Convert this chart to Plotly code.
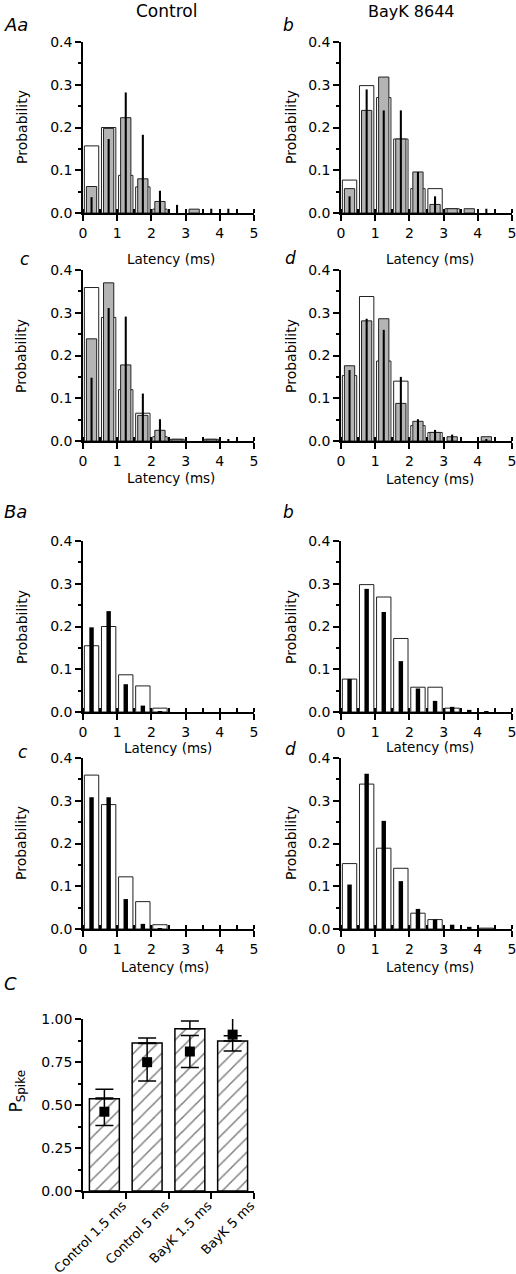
import plotly.graph_objects as go

W, H = 516, 1274
FONT = "DejaVu Sans"

# ---------------- data ----------------
bins = [0.25, 0.75, 1.25, 1.75, 2.25, 2.75, 3.25, 3.75, 4.25, 4.75]

Aa_white = [0.157, 0.200, 0.088, 0.061, 0.009, 0, 0, 0, 0, 0]
Aa_gray = [0.062, 0.198, 0.223, 0.080, 0.027, 0, 0.009, 0, 0, 0]
Aa_black = [0.037, 0.173, 0.282, 0.183, 0.052, 0.019, 0, 0.010, 0.010, 0]

Ab_white = [0.077, 0.298, 0.270, 0.173, 0.057, 0.057, 0.010, 0, 0, 0]
Ab_gray = [0.057, 0.240, 0.318, 0.173, 0.096, 0.020, 0.010, 0.010, 0, 0]
Ab_black = [0.039, 0.289, 0.240, 0.240, 0.096, 0.039, 0, 0, 0.010, 0]

Ac_white = [0.359, 0.289, 0.120, 0.065, 0.010, 0.004, 0, 0.004, 0, 0]
Ac_gray = [0.239, 0.370, 0.178, 0.060, 0.025, 0.004, 0, 0.004, 0, 0]
Ac_black = [0.148, 0.311, 0.291, 0.111, 0.051, 0, 0, 0, 0.003, 0]

Ad_white = [0.153, 0.338, 0.187, 0.140, 0.036, 0.020, 0, 0, 0, 0]
Ad_gray = [0.176, 0.281, 0.286, 0.088, 0.046, 0.020, 0.010, 0, 0.010, 0]
Ad_black = [0.166, 0.286, 0.260, 0.150, 0.051, 0.026, 0.015, 0, 0.004, 0]

Ba_white = [0.155, 0.200, 0.087, 0.061, 0.009, 0, 0, 0, 0, 0]
Ba_black = [0.198, 0.236, 0.065, 0.015, 0.002, 0, 0, 0, 0, 0]

Bb_white = [0.077, 0.298, 0.269, 0.172, 0.058, 0.058, 0.009, 0, 0, 0]
Bb_black = [0.077, 0.288, 0.234, 0.119, 0.055, 0.026, 0.012, 0.005, 0.002, 0]

Bc_white = [0.360, 0.291, 0.122, 0.064, 0.010, 0, 0, 0, 0, 0]
Bc_black = [0.308, 0.308, 0.070, 0.012, 0.002, 0, 0, 0, 0, 0]

Bd_white = [0.153, 0.339, 0.189, 0.142, 0.037, 0.022, 0, 0, 0.002, 0]
Bd_black = [0.104, 0.363, 0.253, 0.112, 0.047, 0.022, 0.010, 0.005, 0, 0]

C_categories = ["Control 1.5 ms", "Control 5 ms", "BayK 1.5 ms", "BayK 5 ms"]
C_bar = [0.537, 0.860, 0.944, 0.872]
C_bar_err = [0.054, 0.029, 0.044, 0.030]
C_point = [0.461, 0.749, 0.811, 0.909]
C_point_err = [0.080, 0.109, 0.093, 0.095]

x_ticks = [0, 1, 2, 3, 4, 5]
C_y_ticks = [0, 0.25, 0.5, 0.75, 1.0]

# ---------------- layout helpers ----------------
def px(x):
    return x / W

def py(y):
    return 1 - y / H

cols = {"L": (83, 254), "R": (341, 512)}
rows = {"A1": (42, 213), "A2": (270, 441), "B1": (541, 712), "B2": (758, 929), "C": (1019, 1191)}

def nz(v):
    return [None if a == 0 else a for a in v]

fig = go.Figure()
layout = dict(
    width=W, height=H, autosize=False,
    margin=dict(l=0, r=0, t=0, b=0, pad=0, autoexpand=False),
    paper_bgcolor="white", plot_bgcolor="white",
    barmode="overlay", showlegend=False,
    font=dict(family=FONT, color="black", size=14),
)

panels = [
    ("L", "A1", Aa_white, Aa_gray, Aa_black, 0.06),
    ("R", "A1", Ab_white, Ab_gray, Ab_black, 0.06),
    ("L", "A2", Ac_white, Ac_gray, Ac_black, 0.06),
    ("R", "A2", Ad_white, Ad_gray, Ad_black, 0.06),
    ("L", "B1", Ba_white, None, Ba_black, 0.13),
    ("R", "B1", Bb_white, None, Bb_black, 0.13),
    ("L", "B2", Bc_white, None, Bc_black, 0.13),
    ("R", "B2", Bd_white, None, Bd_black, 0.13),
]

for i, (c, r, wv, gv, bv, bw) in enumerate(panels, start=1):
    xa = f"x{i}"
    ya = f"y{i}"
    fig.add_trace(go.Bar(x=bins, y=nz(wv), width=0.42, xaxis=xa, yaxis=ya,
                         marker=dict(color="white", line=dict(color="#222", width=1))))
    if gv is not None:
        fig.add_trace(go.Bar(x=bins, y=nz(gv), width=0.30, xaxis=xa, yaxis=ya,
                             marker=dict(color="#b4b4b4", line=dict(color="#222", width=1))))
    fig.add_trace(go.Bar(x=bins, y=nz(bv), width=bw, xaxis=xa, yaxis=ya,
                         marker=dict(color="black", line=dict(color="black", width=0))))
    c0, c1 = cols[c]
    r0, r1 = rows[r]
    key = "" if i == 1 else str(i)
    layout[f"xaxis{key}"] = dict(
        domain=[px(c0), px(c1)], anchor=ya, range=[0, 5], automargin=False,
        tickmode="array", tickvals=x_ticks, ticklabeloverflow="allow",
        ticks="outside", ticklen=6, tickwidth=1.5, tickcolor="black",
        showline=True, linecolor="black", linewidth=1.5,
        showgrid=False, zeroline=False,
        tickfont=dict(family=FONT, size=14, color="black"),
        minor=dict(tickmode="linear", tick0=0, dtick=0.5, ticks="inside", ticklen=4,
                   tickwidth=1.5, tickcolor="black", showgrid=False),
    )
    layout[f"yaxis{key}"] = dict(
        domain=[py(r1), py(r0)], anchor=xa, range=[0, 0.4], automargin=False,
        tickmode="linear", tick0=0, dtick=0.1, tickformat=".1f",
        ticks="outside", ticklen=6, tickwidth=1.5, tickcolor="black",
        showline=True, linecolor="black", linewidth=1.5,
        showgrid=False, zeroline=False,
        tickfont=dict(family=FONT, size=14, color="black"),
        minor=dict(tickmode="linear", tick0=0, dtick=0.05, ticks="outside", ticklen=3,
                   tickwidth=1.5, tickcolor="black", showgrid=False),
    )

# ---------------- panel C ----------------
ci = len(panels) + 1
fig.add_trace(go.Bar(
    x=C_categories, y=C_bar, width=0.7, xaxis=f"x{ci}", yaxis=f"y{ci}",
    marker=dict(color="white", line=dict(color="black", width=1.5),
                pattern=dict(shape="/", fgcolor="black", bgcolor="white", size=10, solidity=0.15)),
    error_y=dict(type="data", array=C_bar_err, arrayminus=[0, 0, 0, 0], symmetric=False,
                 color="black", thickness=1.5, width=9),
))
fig.add_trace(go.Scatter(
    x=C_categories, y=C_point, mode="markers", xaxis=f"x{ci}", yaxis=f"y{ci}",
    marker=dict(symbol="square", size=10, color="black"),
    error_y=dict(type="data", array=C_point_err, symmetric=True,
                 color="black", thickness=1.5, width=9),
))
c0, c1 = cols["L"]
r0, r1 = rows["C"]
layout[f"xaxis{ci}"] = dict(
    domain=[px(c0), px(c1)], anchor=f"y{ci}", type="category", range=[-0.5, 3.5],
    automargin=False, ticklabeloverflow="allow",
    tickson="boundaries", ticks="outside", ticklen=6, tickwidth=1.5, tickcolor="black",
    showline=True, linecolor="black", linewidth=1.5, showgrid=False, zeroline=False,
    tickangle=-45, ticklabelshift=18, tickfont=dict(family=FONT, size=13, color="black"),
)
layout[f"yaxis{ci}"] = dict(
    domain=[py(r1), py(r0)], anchor=f"x{ci}", range=[0, 1.0], automargin=False,
    tickmode="array", tickvals=C_y_ticks, tickformat=".2f",
    ticks="outside", ticklen=6, tickwidth=1.5, tickcolor="black",
    showline=True, linecolor="black", linewidth=1.5, showgrid=False, zeroline=False,
    tickfont=dict(family=FONT, size=14, color="black"),
    minor=dict(tickmode="linear", tick0=0, dtick=0.125, ticks="outside", ticklen=3,
               tickwidth=1.5, tickcolor="black", showgrid=False),
)

# ---------------- annotations ----------------
ann = []

def text(t, x, y, size=14, angle=0, italic=False, xanchor="center"):
    ann.append(dict(
        text=(f"<i>{t}</i>" if italic else t), x=px(x), y=py(y), xref="paper", yref="paper",
        showarrow=False, textangle=angle, xanchor=xanchor, yanchor="middle",
        font=dict(family=FONT, size=size, color="black"),
    ))

text("Control", 166, 11, 17)
text("BayK 8644", 411, 11, 16)

text("Aa", 2, 25, 18, italic=True, xanchor="left")
text("b", 288, 25, 17, italic=True)
text("c", 25, 259, 17, italic=True)
text("d", 290, 258, 17, italic=True)
text("Ba", 2, 512, 18, italic=True, xanchor="left")
text("b", 288, 512, 17, italic=True)
text("c", 23, 752, 17, italic=True)
text("d", 290, 749, 17, italic=True)
text("C", 2, 983, 18, italic=True, xanchor="left")

for x, y in [(22, 127), (291, 127), (21, 356), (291, 356),
             (22, 627), (291, 627), (21, 843), (291, 843)]:
    text("Probability", x, y, 14, angle=-90)

for x, y in [(171, 259), (430, 259), (171, 478), (430, 479),
             (168, 748), (430, 747), (165, 967), (430, 967)]:
    text("Latency (ms)", x, y, 13.5)

text("P<sub>Spike</sub>", 3, 1092, 17, angle=-90, xanchor="left")

layout["annotations"] = ann
fig.update_layout(**layout)
# remove the browser's default 8px page margin so the figure sits at the window corner
fig.write_html("out.html", config={"displayModeBar": False},
               post_script="document.body.style.margin='0';")
